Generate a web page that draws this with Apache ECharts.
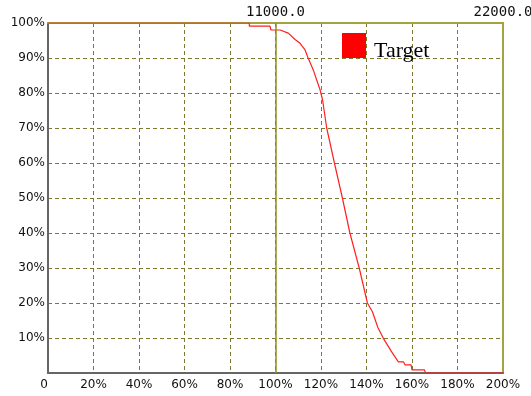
<!DOCTYPE html>
<html>
<head>
<meta charset="utf-8">
<script src="https://cdn.jsdelivr.net/npm/echarts@6/dist/echarts.min.js"></script>
<style>
  html, body { margin: 0; padding: 0; background: #fff; }
  #chart { width: 531px; height: 396px; }
</style>
</head>
<body>
<div id="chart"></div>
<script>
// Cumulative share (%) of samples reaching each percentage of the target
const seriesName = 'Target';
const xPercent = [0, 88.5, 88.5, 97.6, 98.0, 102.0, 105.6, 108.6, 110.8, 113.0, 114.4,
  116.6, 118.1, 119.6, 120.7, 122.5, 125.9, 129.4, 132.7, 136.8, 140.4, 142.6, 145.0,
  147.4, 151.0, 154.0, 156.2, 157.0, 159.6, 160.0, 165.4, 166.0, 200];
const yPercent = [100, 100, 99.1, 99.1, 98.0, 98.0, 97.1, 95.3, 94.2, 92.3, 89.9,
  86.6, 83.7, 80.9, 78.0, 70.0, 60.0, 50.0, 40.0, 30.0, 20.0, 17.5, 13.0,
  9.9, 6.1, 3.2, 3.2, 2.3, 2.3, 0.9, 0.9, 0, 0];
// Absolute scale shown on the top axis
const topAxisMax = 22000;
const topAxisStep = 11000;

const points = xPercent.map((x, i) => [x, yPercent[i]]);

const gridDash = { color: '#7a7a30', type: [4, 3], width: 1 };
const labelFont = { fontFamily: 'DejaVu Sans', fontSize: 12, color: '#111' };

const chart = echarts.init(document.getElementById('chart'));
chart.setOption({
  animation: false,
  grid: { left: 48, right: 28, top: 23, bottom: 23, containLabel: false, outerBoundsMode: 'none' },
  legend: {
    left: 342, top: 33, padding: 0,
    icon: 'rect', itemWidth: 24, itemHeight: 25,
    data: [seriesName],
    formatter: '{t|{name}}',
    textStyle: {
      fontFamily: 'Liberation Serif', fontSize: 22, color: '#000',
      rich: { t: { fontFamily: 'Liberation Serif', fontSize: 22, color: '#000', padding: [12, 0, 0, 3] } }
    }
  },
  xAxis: [
    {
      type: 'value', min: 0, max: 200, interval: 20, position: 'bottom',
      axisLine: { show: true, onZero: false, lineStyle: { color: '#666', width: 2 } },
      axisTick: { show: false },
      axisLabel: Object.assign({ margin: 6, formatter: v => v === 0 ? '0  ' : v + '%' }, labelFont),
      splitLine: { show: true, lineStyle: gridDash }
    },
    {
      type: 'value', min: 0, max: topAxisMax, interval: topAxisStep, position: 'top',
      axisLine: { show: true, onZero: false, lineStyle: { color: '#a3a340', width: 2 } },
      axisTick: { show: false },
      axisLabel: { margin: 4, fontFamily: 'DejaVu Sans Mono', fontSize: 14, color: '#111',
        formatter: v => v === 0 ? '' : v.toFixed(1) },
      splitLine: { show: false }
    }
  ],
  yAxis: [
    {
      type: 'value', min: 0, max: 100, interval: 10, position: 'left',
      axisLine: { show: true, onZero: false, lineStyle: { color: '#666', width: 2 } },
      axisTick: { show: false },
      axisLabel: Object.assign({ margin: 3, formatter: v => v === 0 ? '' : v + '%' }, labelFont),
      splitLine: { show: true, lineStyle: gridDash }
    },
    {
      type: 'value', min: 0, max: 100, interval: 10, position: 'right',
      axisLine: { show: true, onZero: false, lineStyle: { color: '#a3a340', width: 2 } },
      axisTick: { show: false },
      axisLabel: { show: false },
      splitLine: { show: false }
    }
  ],
  series: [
    {
      name: seriesName,
      type: 'line',
      xAxisIndex: 0, yAxisIndex: 0,
      data: points,
      showSymbol: false,
      color: '#ff0000',
      lineStyle: { color: '#ff2020', width: 1.2 },
      markLine: {
        silent: true, symbol: 'none', label: { show: false },
        lineStyle: { color: '#8f8f20', type: 'solid', width: 1.5 },
        data: [{ xAxis: 100 }]
      }
    }
  ]
});
</script>
</body>
</html>
